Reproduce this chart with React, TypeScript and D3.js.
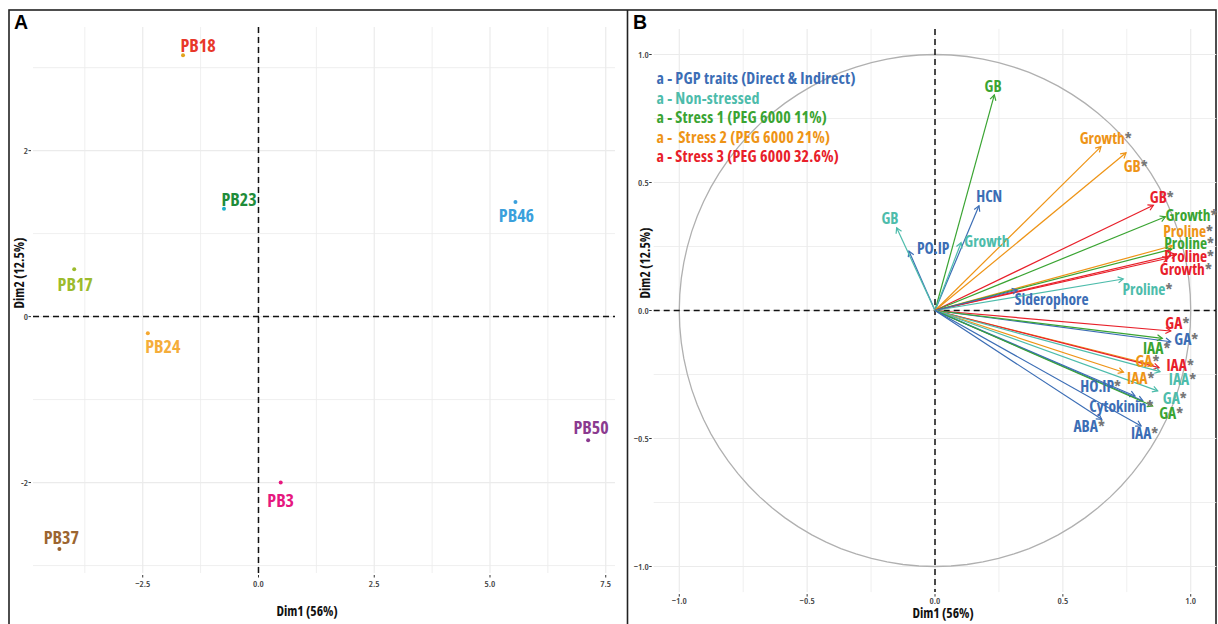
import React from 'react';
import * as d3 from 'd3';

// ---------- Panel A: individuals ----------
const indNames = ['PB18', 'PB23', 'PB17', 'PB24', 'PB3', 'PB37', 'PB46', 'PB50'];
const indDim1 = [-1.63, -0.745, -3.98, -2.39, 0.48, -4.3, 5.55, 7.12];
const indDim2 = [3.15, 1.3, 0.57, -0.2, -2.0, -2.8, 1.38, -1.49];
const indPointColors = ['#e2a41c', '#1fb0c8', '#9cbb2c', '#f5a831', '#e6187f', '#9c6530', '#3aa0dc', '#8b3a8f'];
const indLabelColors = ['#e8372a', '#1e8c3a', '#9cbb2c', '#f5ad3a', '#e6187f', '#9c6530', '#3aa0dc', '#8b3a8f'];
// label nudges (px) relative to the point, mimicking ggrepel output
const indLabelNudge: [number, number][] = [[15, -10], [15, -10], [1, 15], [15, 13], [0, 17], [2, -12], [1, 13], [3, -13]];

const xTicksA = [-2.5, 0, 2.5, 5, 7.5];
const xMinorA = [-3.75, -1.25, 1.25, 3.75, 6.25];
const yTicksA = [-2, 0, 2];
const yMinorA = [-3, -1, 1, 3];

// ---------- Panel B: variables ----------
const groupNames = [
  'a - PGP traits (Direct & Indirect)',
  'a - Non-stressed',
  'a - Stress 1 (PEG 6000 11%)',
  'a -  Stress 2 (PEG 6000 21%)',
  'a - Stress 3 (PEG 6000 32.6%)',
];
const groupColors = ['#3b6db5', '#4dbcab', '#3aa432', '#ee9416', '#e8202a'];

const varNames = ['GB', 'HCN', 'Growth', 'PO.IP', 'GB', 'Growth', 'GB', 'GB', 'Growth', 'Proline', 'Proline', 'Proline', 'Growth', 'Proline', 'Siderophore',
  'GA', 'GA', 'IAA', 'GA', 'IAA', 'IAA', 'IAA', 'HO.IP', 'GA', 'Cytokinin', 'GA', 'ABA', 'IAA'];
const varGroup = [2, 0, 1, 0, 1, 3, 3, 4, 2, 3, 2, 4, 4, 1, 0,
  4, 0, 2, 3, 4, 3, 1, 0, 1, 0, 2, 0, 0];
const varDim1 = [0.232, 0.172, 0.102, -0.102, -0.15, 0.649, 0.747, 0.854, 0.901, 0.928, 0.926, 0.943, 0.911, 0.736, 0.322,
  0.922, 0.922, 0.889, 0.853, 0.876, 0.737, 0.88, 0.782, 0.871, 0.813, 0.851, 0.652, 0.806];
const varDim2 = [0.842, 0.409, 0.265, 0.232, 0.323, 0.64, 0.616, 0.411, 0.366, 0.253, 0.24, 0.219, 0.204, 0.123, 0.08,
  -0.08, -0.122, -0.109, -0.213, -0.223, -0.241, -0.239, -0.334, -0.314, -0.353, -0.373, -0.425, -0.451];
const varStar = [false, false, false, false, false, true, true, true, true, true, true, true, true, true, false,
  true, true, true, true, true, true, true, true, true, true, true, true, true];
// repelled label anchors (data units)
const varLabelDim1 = [0.227, 0.212, 0.203, -0.007, -0.176, 0.652, 0.769, 0.871, 0.987, 0.974, 0.978, 0.978, 0.965, 0.815, 0.456,
  0.932, 0.967, 0.851, 0.815, 0.943, 0.789, 0.952, 0.632, 0.922, 0.713, 0.908, 0.587, 0.804];
const varLabelDim2 = [0.877, 0.447, 0.273, 0.244, 0.363, 0.675, 0.566, 0.442, 0.373, 0.312, 0.263, 0.213, 0.161, 0.084, 0.044,
  -0.05, -0.113, -0.148, -0.196, -0.213, -0.263, -0.269, -0.295, -0.341, -0.373, -0.402, -0.451, -0.477];

const ticksB = [-1, -0.5, 0, 0.5, 1];
const minorB = [-0.75, -0.25, 0.25, 0.75];

const FONT = "'Open Sans', 'DejaVu Sans', sans-serif";
const GRID = '#ebebeb';

export default function App() {
  // scales A
  const xA = d3.scaleLinear().domain([-4.87, 7.7]).range([33, 615]);
  const yA = d3.scaleLinear().domain([-3.09, 3.49]).range([573, 27]);
  // scales B
  const xB = d3.scaleLinear().domain([-1.1, 1.1]).range([653.7, 1216.3]);
  const yB = d3.scaleLinear().domain([-1.1, 1.1]).range([592.1, 28.9]);

  const circle = d3.line<number>()
    .x((a) => xB(Math.cos(a)))
    .y((a) => yB(Math.sin(a)))(d3.range(0, 2 * Math.PI + 0.001, Math.PI / 50));

  const [ax0, ax1] = xA.range();
  const [ay1, ay0] = yA.range();
  const [bx0, bx1] = xB.range();
  const [by1, by0] = yB.range();

  const tickText = { fontFamily: FONT, fontStretch: 'condensed', fontSize: 9.5, fill: '#444', fontWeight: 600 } as React.CSSProperties;
  const titleText = { fontFamily: FONT, fontStretch: 'condensed', fontSize: 13.5, fill: '#111', fontWeight: 700 } as React.CSSProperties;

  const arrowHead = (x1: number, y1: number, x2: number, y2: number, len = 6) => {
    const ang = Math.atan2(y2 - y1, x2 - x1);
    const a1 = ang + Math.PI - Math.PI / 6;
    const a2 = ang + Math.PI + Math.PI / 6;
    return `M${x2 + len * Math.cos(a1)},${y2 + len * Math.sin(a1)}L${x2},${y2}L${x2 + len * Math.cos(a2)},${y2 + len * Math.sin(a2)}`;
  };

  return (
    <svg width={1218} height={624} style={{ position: 'absolute', left: 0, top: 0, background: '#fff' }}>
      {/* frames */}
      <rect x={9} y={10} width={1207} height={640} fill="none" stroke="#222" strokeWidth={1.6} />
      <line x1={627.5} x2={627.5} y1={10} y2={624} stroke="#222" strokeWidth={1.6} />

      {/* ---------------- Panel A ---------------- */}
      <text x={14} y={29} style={{ fontFamily: "'Liberation Sans', Arial, sans-serif", fontWeight: 700, fontSize: 19.5 }}>A</text>
      <g>
        {xMinorA.map((v) => <line key={'xm' + v} x1={xA(v)} x2={xA(v)} y1={ay0} y2={ay1} stroke={GRID} strokeWidth={0.8} />)}
        {yMinorA.map((v) => <line key={'ym' + v} x1={ax0} x2={ax1} y1={yA(v)} y2={yA(v)} stroke={GRID} strokeWidth={0.8} />)}
        {xTicksA.map((v) => <line key={'xg' + v} x1={xA(v)} x2={xA(v)} y1={ay0} y2={ay1} stroke={GRID} strokeWidth={1.2} />)}
        {yTicksA.map((v) => <line key={'yg' + v} x1={ax0} x2={ax1} y1={yA(v)} y2={yA(v)} stroke={GRID} strokeWidth={1.2} />)}
        {/* ticks */}
        {xTicksA.map((v) => (
          <g key={'xt' + v}>
            <line x1={xA(v)} x2={xA(v)} y1={ay1 + 2} y2={ay1 + 4.5} stroke="#333" strokeWidth={1} />
            <text x={xA(v)} y={ay1 + 14} textAnchor="middle" style={tickText}>{d3.format('.1f')(v)}</text>
          </g>
        ))}
        {yTicksA.map((v) => (
          <g key={'yt' + v}>
            <line x1={ax0 - 4.5} x2={ax0 - 2} y1={yA(v)} y2={yA(v)} stroke="#333" strokeWidth={1} />
            <text x={ax0 - 5} y={yA(v) + 3.3} textAnchor="end" style={tickText}>{v}</text>
          </g>
        ))}
        {/* dashed zero lines */}
        <line x1={ax0} x2={ax1} y1={yA(0)} y2={yA(0)} stroke="#111" strokeWidth={1.5} strokeDasharray="6,4" />
        <line x1={xA(0)} x2={xA(0)} y1={ay0} y2={ay1} stroke="#111" strokeWidth={1.5} strokeDasharray="6,4" />
        {/* points and labels */}
        {indNames.map((n, i) => (
          <g key={n}>
            <circle cx={xA(indDim1[i])} cy={yA(indDim2[i])} r={2} fill={indPointColors[i]} />
            <text x={xA(indDim1[i]) + indLabelNudge[i][0]} y={yA(indDim2[i]) + indLabelNudge[i][1]} textAnchor="middle" dominantBaseline="central"
              style={{ fontFamily: FONT, fontStretch: 'condensed', fontWeight: 700, fontSize: 18, fill: indLabelColors[i] }}>{n}</text>
          </g>
        ))}
        {/* axis titles */}
        <text x={307} y={616} textAnchor="middle" style={titleText}>Dim1 (56%)</text>
        <text transform={`translate(24,273) rotate(-90)`} textAnchor="middle" style={titleText}>Dim2 (12.5%)</text>
      </g>

      {/* ---------------- Panel B ---------------- */}
      <text x={633} y={29} style={{ fontFamily: "'Liberation Sans', Arial, sans-serif", fontWeight: 700, fontSize: 19.5 }}>B</text>
      <g>
        {minorB.map((v) => <line key={'bxm' + v} x1={xB(v)} x2={xB(v)} y1={by0} y2={by1} stroke={GRID} strokeWidth={0.8} />)}
        {minorB.map((v) => <line key={'bym' + v} x1={bx0} x2={bx1} y1={yB(v)} y2={yB(v)} stroke={GRID} strokeWidth={0.8} />)}
        {ticksB.map((v) => <line key={'bxg' + v} x1={xB(v)} x2={xB(v)} y1={by0} y2={by1} stroke={GRID} strokeWidth={1.2} />)}
        {ticksB.map((v) => <line key={'byg' + v} x1={bx0} x2={bx1} y1={yB(v)} y2={yB(v)} stroke={GRID} strokeWidth={1.2} />)}
        {ticksB.map((v) => (
          <g key={'bxt' + v}>
            <line x1={xB(v)} x2={xB(v)} y1={by1 + 2} y2={by1 + 4.5} stroke="#333" strokeWidth={1} />
            <text x={xB(v)} y={by1 + 12} textAnchor="middle" style={tickText}>{d3.format('.1f')(v)}</text>
          </g>
        ))}
        {ticksB.map((v) => (
          <g key={'byt' + v}>
            <line x1={bx0 - 4.5} x2={bx0 - 2} y1={yB(v)} y2={yB(v)} stroke="#333" strokeWidth={1} />
            <text x={bx0 - 5} y={yB(v) + 3.3} textAnchor="end" style={tickText}>{d3.format('.1f')(v)}</text>
          </g>
        ))}
        <path d={circle ?? ''} fill="none" stroke="#b0b0b0" strokeWidth={1.3} />
        <line x1={bx0} x2={bx1} y1={yB(0)} y2={yB(0)} stroke="#111" strokeWidth={1.5} strokeDasharray="6,4" />
        <line x1={xB(0)} x2={xB(0)} y1={by0} y2={by1} stroke="#111" strokeWidth={1.5} strokeDasharray="6,4" />
        {/* arrows */}
        {varNames.map((n, i) => {
          const x2 = xB(varDim1[i]);
          const y2 = yB(varDim2[i]);
          const c = groupColors[varGroup[i]];
          return (
            <g key={'a' + i}>
              <line x1={xB(0)} y1={yB(0)} x2={x2} y2={y2} stroke={c} strokeWidth={1.2} />
              <path d={arrowHead(xB(0), yB(0), x2, y2)} fill="none" stroke={c} strokeWidth={1.2} />
            </g>
          );
        })}
        {/* arrow labels */}
        {varNames.map((n, i) => (
          <text key={'l' + i} x={xB(varLabelDim1[i]) + (varStar[i] ? 4 : 0)} y={yB(varLabelDim2[i])} textAnchor="middle" dominantBaseline="central"
            style={{ fontFamily: FONT, fontStretch: 'condensed', fontWeight: 700, fontSize: 15.5, fill: groupColors[varGroup[i]] }}>
            {n}{varStar[i] ? <tspan fill="#777" fontWeight={700}>*</tspan> : null}
          </text>
        ))}
        {/* legend */}
        {groupNames.map((g, i) => (
          <text key={g} x={656.5} y={78 + i * 19.5} dominantBaseline="central" xmlSpace="preserve"
            style={{ fontFamily: FONT, fontStretch: 'condensed', fontWeight: 700, fontSize: 16, letterSpacing: 0.2, fill: groupColors[i], whiteSpace: 'pre' }}>{g}</text>
        ))}
        <text x={943} y={618} textAnchor="middle" style={titleText}>Dim1 (56%)</text>
        <text transform={`translate(650,263) rotate(-90)`} textAnchor="middle" style={titleText}>Dim2 (12.5%)</text>
      </g>
    </svg>
  );
}
